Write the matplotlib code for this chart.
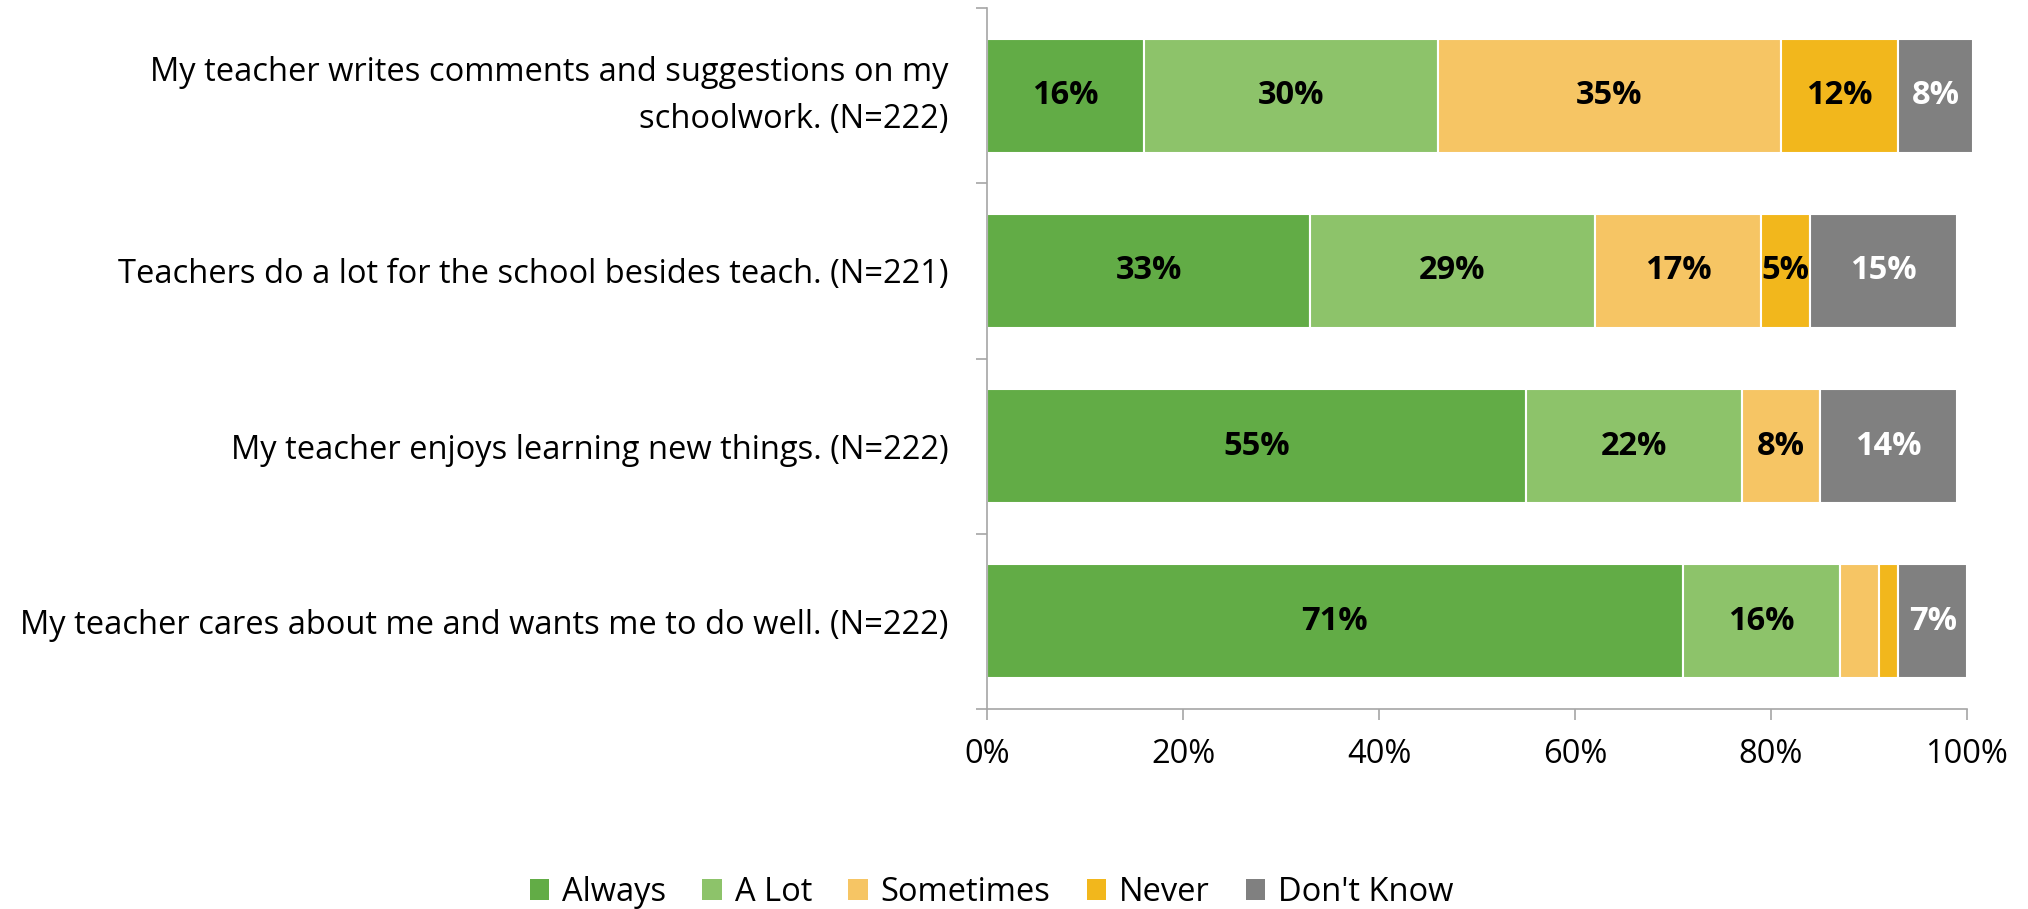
import matplotlib
matplotlib.use("Agg")
import matplotlib.pyplot as plt
from matplotlib.patches import Patch
from matplotlib.ticker import FixedLocator, PercentFormatter
import numpy as np

plt.rcParams['font.family'] = ['Open Sans', 'DejaVu Sans']

statements = [
    "My teacher writes comments and suggestions on my\nschoolwork. (N=222)",
    "Teachers do a lot for the school besides teach. (N=221)",
    "My teacher enjoys learning new things. (N=222)",
    "My teacher cares about me and wants me to do well. (N=222)",
]
responses = ["Always", "A Lot", "Sometimes", "Never", "Don't Know"]
always = [16, 33, 55, 71]
a_lot = [30, 29, 22, 16]
sometimes = [35, 17, 8, 4]
never = [12, 5, 0, 2]
dont_know = [7.6, 15, 14, 7]
x_ticks = [0, 20, 40, 60, 80, 100]

series = [always, a_lot, sometimes, never, dont_know]
colors = ["#62AC46", "#8DC36A", "#F6C564", "#F2B71C", "#808080"]
label_colors = ["black", "black", "black", "black", "white"]
axis_gray = "#A6A6A6"
fs = 23.5

fig = plt.figure(figsize=(20.28, 9.09), dpi=100)
ax = fig.add_axes([0.4867, 0.220, 0.4832, 0.771])

y = np.arange(len(statements))
left = np.zeros(len(statements))
for vals, col, tcol, name in zip(series, colors, label_colors, responses):
    vals = np.asarray(vals, dtype=float)
    bars = ax.barh(y, vals, left=left, height=0.65, color=col,
                   edgecolor="white", linewidth=1.5, label=name, clip_on=False)
    for rect, v in zip(bars, vals):
        if v >= 5:
            ax.text(rect.get_x() + rect.get_width() / 2,
                    rect.get_y() + rect.get_height() / 2,
                    f"{v:.0f}%", ha="center", va="center",
                    fontsize=fs, fontweight="bold", color=tcol)
    left += vals

ax.set_xlim(0, 100)
ax.set_ylim(len(statements) - 0.5, -0.5)

ax.xaxis.set_major_locator(FixedLocator(x_ticks))
ax.xaxis.set_major_formatter(PercentFormatter(decimals=0))
ax.tick_params(axis="x", length=8, width=1.2, color=axis_gray,
               labelsize=fs, pad=13)

ax.set_yticks(y)
ax.set_yticklabels(statements, fontsize=fs)
ax.set_yticks(np.arange(-0.5, len(statements), 1.0), minor=True)
ax.tick_params(axis="y", which="major", length=0, pad=28)
ax.tick_params(axis="y", which="minor", length=8, width=1.2, color=axis_gray)
for lbl in ax.get_yticklabels():
    lbl.set_horizontalalignment("right")
    lbl.set_multialignment("right")
    if "\n" in lbl.get_text():
        lbl.set_linespacing(1.55)
        lbl.set_verticalalignment("center")

for side in ("top", "right"):
    ax.spines[side].set_visible(False)
for side in ("left", "bottom"):
    ax.spines[side].set_color(axis_gray)
    ax.spines[side].set_linewidth(1.2)

handles = [Patch(facecolor=c, edgecolor="none") for c in colors]
fig.legend(handles, responses, loc="center", bbox_to_anchor=(0.489, 0.018),
           ncol=5, frameon=False, fontsize=fs, handlelength=0.6,
           handleheight=0.6, handletextpad=0.4, columnspacing=1.1)

fig.savefig("out.png", dpi=100)
